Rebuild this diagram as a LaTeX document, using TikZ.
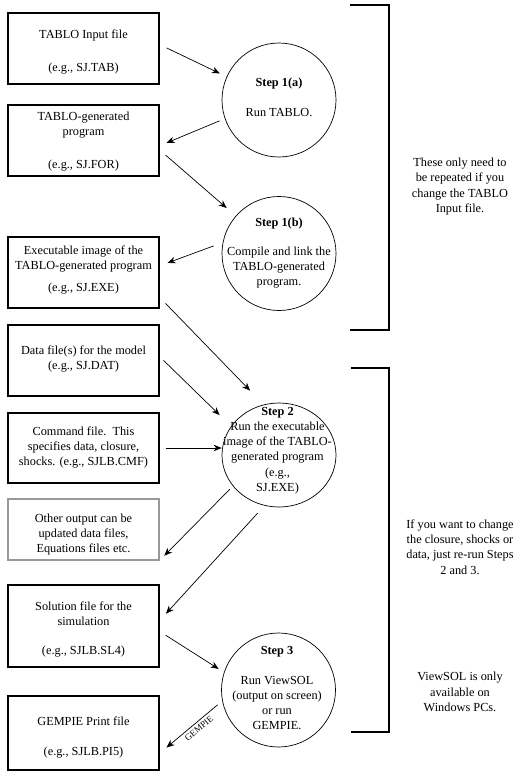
\documentclass[tikz,border=0pt]{standalone}
\usepackage{fontspec}
\setmainfont{Liberation Serif}
\usetikzlibrary{arrows.meta,shapes.geometric,calc}
\begin{document}
\begin{tikzpicture}[x=1pt,y=-1pt,
  box/.style={draw,line width=1.1pt,minimum width=151pt,inner sep=0pt},
  graybox/.style={box,draw=black!40},
  stepc/.style={draw,circle,line width=0.7pt,minimum size=114pt,inner sep=0pt},
  stepe/.style={draw,ellipse,line width=0.7pt,minimum width=114pt,minimum height=104pt,inner sep=0pt},
  txt/.style={align=center,inner sep=0pt,font=\fontsize{12.3}{15.3}\selectfont},
  lbl/.style={inner sep=0pt,font=\fontsize{9}{10}\selectfont},
  arr/.style={line width=0.7pt,-{Stealth[length=8pt,width=6.5pt,inset=2.5pt]}},
  brk/.style={line width=1.1pt}]
\useasboundingbox (0,0) rectangle (528,777);
% boxes
\node[box,minimum height=71pt] (b1) at (83.5,48.5) {};
\node[txt] (b1t) at (83.5,52) {TABLO Input file\\[17pt](e.g., SJ.TAB)};
\node[box,minimum height=71pt] (b2) at (83.5,140.5) {};
\node[txt] (b2t) at (83.5,141.5) {TABLO-generated\\program\\[17pt](e.g., SJ.FOR)};
\node[box,minimum height=71pt] (b3) at (83.5,272.5) {};
\node[txt] (b3t) at (83.5,269.5) {Executable image of the\\TABLO-generated program\\[6.4pt](e.g., SJ.EXE)};
\node[box,minimum height=71pt] (bd) at (83.5,360.5) {};
\node[txt] (bdt) at (83.5,359) {Data file(s) for the model\\(e.g., SJ.DAT)};
\node[box,minimum height=70pt] (bc) at (83.5,448) {};
\node[txt] (bct) at (83.5,447.5) {Command file.\ \ This\\specifies data, closure,\\shocks. (e.g., SJLB.CMF)};
\node[graybox,minimum height=61pt] (bo) at (83.5,529.5) {};
\node[txt] (bot) at (83.5,534.5) {Other output can be\\updated data files,\\Equations files etc.};
\node[box,minimum height=82pt] (bs) at (83.5,626) {};
\node[txt] (bst) at (83.5,629.5) {Solution file for the\\simulation\\[14pt](e.g., SJLB.SL4)};
\node[box,minimum height=74pt] (bg) at (83.5,733) {};
\node[txt] (bgt) at (83.5,737.5) {GEMPIE Print file\\[14pt](e.g., SJLB.PI5)};
% steps
\node[stepc] (c1a) at (279,100) {};
\node[txt] (c1at) at (279,97) {\textbf{Step 1(a)}\\[14.7pt]Run TABLO.};
\node[stepc] (c1b) at (279,253.5) {};
\node[txt] (c1bt) at (279,253) {\textbf{Step 1(b)}\\[13.7pt]Compile and link the\\TABLO-generated\\program.};
\node[stepe] (c2) at (279,455) {};
\node[txt] (c2t) at (277.5,450.5) {\textbf{Step 2}\\Run the executable\\image of the TABLO-\\generated program\\(e.g.,\\SJ.EXE)};
\node[stepc] (c3) at (278.5,690) {};
\node[txt] (c3t) at (277,688) {\textbf{Step 3}\\[14.7pt]Run ViewSOL\\(output on screen)\\or run\\GEMPIE.};
% right notes
\node[txt] (r1) at (460,186.5) {These only need to\\be repeated if you\\change the TABLO\\Input file.};
\node[txt] (r2) at (460,547) {If you want to change\\the closure, shocks or\\data, just re-run Steps\\2 and 3.};
\node[txt] (r3) at (460,692) {ViewSOL is only\\available on\\Windows PCs.};
% brackets
\draw[brk] (350,5) -- (389,5) -- (389,330) -- (350,330);
\draw[brk] (351,368) -- (389,368) -- (389,732) -- (351,732);
% connectors
\draw[arr,shorten <=7.8pt,shorten >=7.5pt] (b1.3) -- (c1a.156);
\draw[arr,shorten <=5.6pt,shorten >=7.6pt] (c1a.199) -- (b2.-4);
\draw[arr,shorten <=7.9pt,shorten >=12pt] (b2.-7) -- (c1b.139);
\draw[arr,shorten <=9.6pt,shorten >=8.5pt] (c1b.169) -- (b3.5);
\draw[arr,shorten <=8.6pt,shorten >=19.4pt] (b3.-18) -- (c2.107);
\draw[arr,shorten <=5.6pt,shorten >=16pt] (bd.3) -- (c2.149);
\draw[arr,shorten <=6pt] (bc.east) -- (bc.east -| c2.west);
\draw[arr,shorten <=4.4pt,shorten >=6.7pt] (c2.214) -- (bo.south east);
\draw[arr,shorten <=10.3pt,shorten >=9.5pt] (c2.254) -- (bs.4);
\draw[arr,shorten <=7.3pt,shorten >=6.3pt] (bs.-4) -- (c3.162);
\draw[arr,shorten <=6pt,shorten >=9pt] (c3.191) -- (bg.-15);
\node[lbl,rotate=39.6] (gl) at (199,728.5) {GEMPIE};
\end{tikzpicture}
\end{document}
